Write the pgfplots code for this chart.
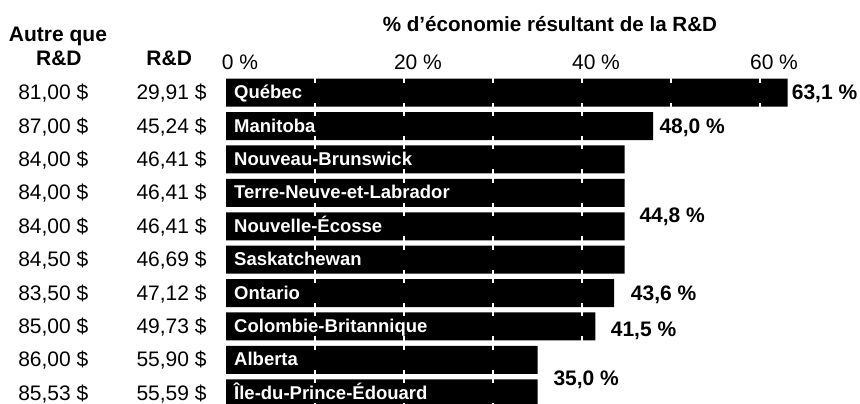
\documentclass[border=0pt]{standalone}
\usepackage{pgfplots}
\pgfplotsset{compat=1.18}
\usepackage{pgfplotstable}
\usepackage{fontspec}
\setmainfont{Liberation Sans}
\newcommand{\fr}{\fontsize{21bp}{25bp}\selectfont}
\newcommand{\fb}{\bfseries\fontsize{21bp}{25bp}\selectfont}

\pgfplotstableread[col sep=semicolon]{
row;name;autre;rd;val
0;Québec;81,00;29,91;63.1
1;Manitoba;87,00;45,24;48.0
2;Nouveau-Brunswick;84,00;46,41;44.8
3;Terre-Neuve-et-Labrador;84,00;46,41;44.8
4;Nouvelle-Écosse;84,00;46,41;44.8
5;Saskatchewan;84,50;46,69;44.8
6;Ontario;83,50;47,12;43.6
7;Colombie-Britannique;85,00;49,73;41.5
8;Alberta;86,00;55,90;35.0
9;Île-du-Prince-Édouard;85,53;55,59;35.0
}\provtable

\pgfplotstableread[col sep=semicolon]{
x;y;lab
63.56;0;63,1
48.69;-1;48,0
46.44;-3.66;44,8
45.48;-6;43,6
43.22;-7.09;41,5
36.78;-8.56;35,0
}\valtable

\begin{document}
\begin{tikzpicture}
\begin{axis}[
  at={(226bp,311.3bp)}, anchor=origin,
  x=8.9bp, y=33.4bp,
  xmin=0, xmax=70, ymin=-9.5, ymax=0.5,
  clip=false,
  set layers,
  axis line style={draw=none},
  xtick={0,20,40,60},
  xticklabels={0 \%,20 \%,40 \%,60 \%},
  xticklabel pos=upper,
  xticklabel style={font=\fr, anchor=base, xshift=14bp, yshift=6.8bp, inner sep=0pt},
  ytick=\empty,
  minor xtick={10,20,30,40,50,60},
  xminorgrids=true, xmajorgrids=false,
  minor grid style={white, line width=1.5bp, dash pattern=on 13.4bp off 20bp, dash phase=6.7bp},
  major tick length=0pt, minor tick length=0pt,
]
\addplot[xbar, fill=black, draw=none, bar width=28bp, on layer=axis background]
  table[x=val, y expr=-\thisrow{row}] {\provtable};

\addplot[draw=none, mark=none, nodes near coords, point meta=explicit symbolic,
  nodes near coords style={font=\bfseries\fontsize{18.5bp}{22bp}\selectfont, text=white,
    anchor=base west, inner sep=0pt, xshift=8bp, yshift=-6bp}]
  table[x expr=0, y expr=-\thisrow{row}, meta=name] {\provtable};

\addplot[draw=none, mark=none, nodes near coords={\pgfplotspointmeta~\$}, point meta=explicit symbolic,
  nodes near coords style={font=\fr, text=black, anchor=base, inner sep=0pt, yshift=-7bp}]
  table[x expr=-19.4, y expr=-\thisrow{row}, meta=autre] {\provtable};

\addplot[draw=none, mark=none, nodes near coords={\pgfplotspointmeta~\$}, point meta=explicit symbolic,
  nodes near coords style={font=\fr, text=black, anchor=base, inner sep=0pt, yshift=-7bp}]
  table[x expr=-6.12, y expr=-\thisrow{row}, meta=rd] {\provtable};

\addplot[draw=none, mark=none,
  nodes near coords={\pgfplotspointmeta~\%}, point meta=explicit symbolic,
  nodes near coords style={font=\fb, text=black, anchor=base west, inner sep=0pt, yshift=-7.3bp}]
  table[x=x, y=y, meta=lab] {\valtable};

\node[anchor=base, inner sep=0pt, font=\bfseries\fontsize{20.6bp}{24bp}\selectfont]
  at (axis cs:36.4,1.826) {\% d’économie résultant de la R\&D};
\node[anchor=base, inner sep=0pt, font=\fb] at (axis cs:-18.88,1.527) {Autre que};
\node[anchor=base, inner sep=0pt, font=\fb] at (axis cs:-18.78,0.829) {R\&D};
\node[anchor=base, inner sep=0pt, font=\fb] at (axis cs:-6.38,0.829) {R\&D};
\end{axis}
\pgfresetboundingbox
\path[use as bounding box] (0,0) rectangle (860bp,404bp);
\end{tikzpicture}
\end{document}
